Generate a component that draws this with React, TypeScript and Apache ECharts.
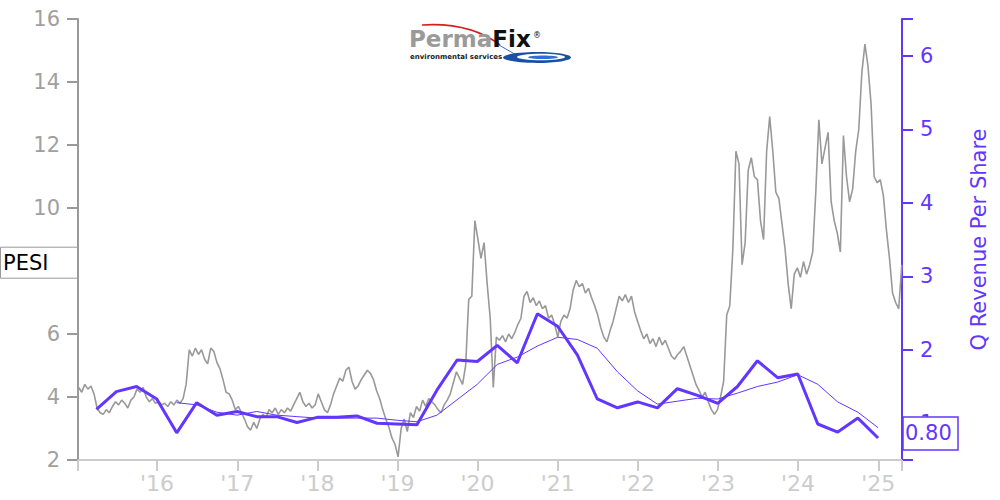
import React, { useEffect, useRef } from 'react';
import * as echarts from 'echarts';

// ---------- data ----------
const TICKER = 'PESI';
const RIGHT_AXIS_NAME = 'Q Revenue Per Share';

// biweekly closing prices, first close 2015-01-09, one every 14 days
const PRICE_START = '2015-01-09';
const PRICE_STEP_DAYS = 14;
const PRICE_2015 = [4.3, 4.15, 4.4, 4.25, 4.35, 4.1, 3.65, 3.5, 3.45, 3.6, 3.5, 3.7, 3.85, 3.75, 3.9, 3.8, 3.65, 3.9, 4.0, 4.25, 4.15, 4.3, 4.0, 3.85, 3.95, 3.8];
const PRICE_2016 = [3.85, 3.75, 3.8, 3.7, 3.85, 3.75, 3.9, 3.8, 3.95, 4.4, 5.5, 5.3, 5.55, 5.35, 5.5, 5.2, 5.05, 5.55, 5.45, 5.1, 4.9, 4.55, 4.15, 4.1, 3.9, 3.6];
const PRICE_2017 = [3.7, 3.5, 3.3, 3.05, 2.95, 3.2, 3.0, 3.3, 3.45, 3.35, 3.6, 3.5, 3.65, 3.45, 3.6, 3.5, 3.65, 3.55, 3.75, 3.95, 4.15, 3.85, 3.7, 3.8, 3.65, 3.75];
const PRICE_2018 = [4.1, 3.85, 3.6, 3.5, 3.75, 4.1, 4.35, 4.6, 4.5, 4.85, 4.95, 4.5, 4.25, 4.35, 4.55, 4.7, 4.85, 4.75, 4.55, 4.2, 3.95, 3.6, 3.3, 3.05, 2.7, 2.5];
const PRICE_2019 = [2.1, 3.0, 3.3, 2.9, 3.5, 3.35, 3.7, 3.55, 3.9, 3.7, 3.95, 3.85, 3.75, 3.6, 3.5, 3.75, 3.9, 4.1, 4.45, 4.8, 4.6, 4.4, 5.0, 7.1, 7.2, 9.6];
const PRICE_2020 = [9.0, 8.4, 8.9, 7.6, 6.5, 4.3, 5.9, 5.8, 5.95, 5.75, 6.0, 5.85, 6.05, 6.3, 6.5, 7.2, 7.35, 7.0, 7.15, 6.9, 7.05, 6.8, 6.9, 6.5, 6.6, 6.3];
const PRICE_2021 = [5.9, 6.4, 6.6, 6.5, 6.8, 7.4, 7.7, 7.5, 7.6, 7.3, 7.45, 7.15, 6.9, 6.6, 6.2, 5.9, 5.75, 6.1, 6.4, 6.8, 7.2, 7.05, 7.25, 7.0, 7.2, 6.7];
const PRICE_2022 = [6.4, 6.1, 5.85, 6.0, 5.7, 5.85, 5.6, 5.9, 5.65, 5.8, 5.55, 5.3, 5.2, 5.35, 5.45, 5.6, 5.3, 5.0, 4.7, 4.4, 4.2, 4.0, 4.15, 3.85, 3.6, 3.45];
const PRICE_2023 = [3.6, 4.0, 4.5, 6.6, 6.9, 8.7, 11.8, 11.4, 8.2, 8.9, 11.2, 11.6, 11.0, 10.9, 9.6, 9.0, 11.8, 12.9, 11.8, 10.5, 10.3, 9.5, 8.7, 7.6, 6.8, 7.9];
const PRICE_2024 = [8.1, 7.8, 8.3, 7.9, 8.2, 8.6, 10.5, 12.8, 11.4, 11.9, 12.4, 10.2, 9.6, 9.2, 8.6, 12.3, 11.0, 10.2, 10.6, 11.8, 12.5, 14.3, 15.2, 14.5, 13.3, 11.0];
const PRICE_2025 = [10.8, 10.9, 10.4, 9.3, 8.4, 7.3, 7.0, 6.8, 8.2];

// quarterly revenue per share (quarter ends)
const QUARTER_YEARS = [2015, 2016, 2017, 2018, 2019, 2020, 2021, 2022, 2023, 2024];
const QUARTER_ENDS = ['03-31', '06-30', '09-30', '12-31'];
const REVENUE = [
  1.19, 1.43, 1.50, 1.33,
  0.87, 1.28, 1.11, 1.16,
  1.09, 1.09, 1.01, 1.08,
  1.08, 1.10, 1.00, 0.99,
  0.98, 1.45, 1.86, 1.84,
  2.06, 1.82, 2.49, 2.32,
  1.93, 1.33, 1.21, 1.29,
  1.21, 1.47, 1.38, 1.27,
  1.50, 1.85, 1.62, 1.67,
  0.99, 0.88, 1.07, 0.80,
];
// trailing four-quarter average line
const REVENUE_AVG = [
  null, null, null, null,
  1.28, 1.25, 1.15, 1.11,
  1.16, 1.11, 1.09, 1.07,
  1.07, 1.07, 1.07, 1.04,
  1.02, 1.11, 1.32, 1.53,
  1.80, 1.90, 2.05, 2.17,
  2.14, 2.02, 1.70, 1.44,
  1.26, 1.30, 1.34, 1.33,
  1.41, 1.50, 1.56, 1.66,
  1.53, 1.29, 1.15, 0.94,
];

const X_MIN = '2015-01-06';
const X_MAX = '2025-04-19';
const YEAR_TICKS = [2016, 2017, 2018, 2019, 2020, 2021, 2022, 2023, 2024, 2025];
const LEFT_MIN = 2, LEFT_MAX = 16, LEFT_INTERVAL = 2;
const RIGHT_MIN = 0.5, RIGHT_MAX = 6.5;
const RIGHT_LABELS = [1, 2, 3, 4, 5, 6];

// ---------- styles ----------
const PURPLE = '#6236ff';
const GREY = '#999999';
const LIGHT = '#cccccc';
const FONT = 'DejaVu Sans';

const ts = (d: string) => new Date(d + 'T00:00:00').getTime();

export default function App() {
  const ref = useRef<HTMLDivElement>(null);

  useEffect(() => {
    if (!ref.current) return;
    const chart = echarts.init(ref.current, undefined, { renderer: 'svg' });

    const allPrices = [
      ...PRICE_2015, ...PRICE_2016, ...PRICE_2017, ...PRICE_2018, ...PRICE_2019,
      ...PRICE_2020, ...PRICE_2021, ...PRICE_2022, ...PRICE_2023, ...PRICE_2024, ...PRICE_2025,
    ];
    const start = ts(PRICE_START);
    const priceData = allPrices.map((v, i) => [start + i * PRICE_STEP_DAYS * 86400000, v]);

    const qDates: number[] = [];
    QUARTER_YEARS.forEach((y) => QUARTER_ENDS.forEach((md) => qDates.push(ts(`${y}-${md}`))));
    const revData = REVENUE.map((v, i) => [qDates[i], v]);
    const avgData = REVENUE_AVG.map((v, i) => [qDates[i], v]);

    const yearStarts = YEAR_TICKS.map((y) => ts(`${y}-01-01`));
    const xMin = ts(X_MIN);
    const xMax = ts(X_MAX);

    const option: any = {
      animation: false,
      backgroundColor: '#ffffff',
      textStyle: { fontFamily: FONT },
      grid: { left: 78, right: 98, top: 19, bottom: 40, containLabel: false },
      xAxis: {
        type: 'value',
        min: xMin,
        max: xMax,
        axisLine: { show: true, lineStyle: { color: LIGHT, width: 2 } },
        axisTick: { show: true, length: 11, lineStyle: { color: LIGHT, width: 2 }, customValues: [xMin, ...yearStarts, xMax] },
        axisLabel: {
          customValues: yearStarts,
          color: LIGHT,
          fontSize: 22,
          fontFamily: FONT,
          margin: 12,
          formatter: (v: number) => "'" + String(new Date(v).getFullYear()).slice(2),
        },
        splitLine: { show: false },
      },
      yAxis: [
        {
          type: 'value',
          position: 'left',
          min: LEFT_MIN,
          max: LEFT_MAX,
          interval: LEFT_INTERVAL,
          axisLine: { show: true, lineStyle: { color: GREY, width: 2 } },
          axisTick: { show: true, length: 11, lineStyle: { color: GREY, width: 2 } },
          axisLabel: { color: '#a0a0a0', fontSize: 21, fontFamily: FONT, margin: 18 },
          splitLine: { show: false },
        },
        {
          type: 'value',
          position: 'right',
          min: RIGHT_MIN,
          max: RIGHT_MAX,
          name: RIGHT_AXIS_NAME,
          nameLocation: 'middle',
          nameRotate: 90,
          nameGap: 66,
          nameTextStyle: { color: PURPLE, fontSize: 21, fontFamily: FONT },
          axisLine: { show: true, lineStyle: { color: PURPLE, width: 2 } },
          axisTick: { show: true, length: 11, lineStyle: { color: PURPLE, width: 2 }, customValues: [RIGHT_MIN, ...RIGHT_LABELS, RIGHT_MAX] },
          axisLabel: { customValues: RIGHT_LABELS, color: PURPLE, fontSize: 21, fontFamily: FONT, margin: 18 },
          splitLine: { show: false },
        },
      ],
      series: [
        {
          type: 'line',
          name: TICKER,
          yAxisIndex: 0,
          data: priceData,
          showSymbol: false,
          lineStyle: { color: GREY, width: 1.6 },
          z: 1,
        },
        {
          type: 'line',
          yAxisIndex: 1,
          data: avgData,
          showSymbol: false,
          connectNulls: false,
          lineStyle: { color: PURPLE, width: 1 },
          z: 2,
        },
        {
          type: 'line',
          yAxisIndex: 1,
          data: revData,
          showSymbol: false,
          lineStyle: { color: PURPLE, width: 3 },
          z: 3,
        },
      ],
    };
    chart.setOption(option);

    const lastRev = REVENUE[REVENUE.length - 1];
    const lastPrice = allPrices[allPrices.length - 1];
    const yRev = chart.convertToPixel({ yAxisIndex: 1 }, lastRev) as number;
    const yPrice = chart.convertToPixel({ yAxisIndex: 0 }, lastPrice) as number;

    chart.setOption({
      graphic: [
        {
          type: 'bezierCurve', z: 100,
          shape: { x1: 422, y1: 25, cpx1: 470, cpy1: 22, x2: 500, y2: 45 },
          style: { stroke: '#d42020', lineWidth: 1.6, fill: null },
        },
        {
          type: 'line', z: 100,
          shape: { x1: 499, y1: 45, x2: 518, y2: 56 },
          style: { stroke: '#3a6fd0', lineWidth: 1 },
        },
        {
          type: 'text', z: 101, x: 409, y: 50,
          style: {
            text: '{a|Perma}{b|Fix}',
            verticalAlign: 'bottom',
            rich: {
              a: { fontSize: 23, fontWeight: 'bold', fontFamily: FONT, fill: '#9a9a9a' },
              b: { fontSize: 23, fontWeight: 'bold', fontFamily: FONT, fill: '#111111' },
            },
          },
        },
        {
          type: 'text', z: 101, x: 533, y: 31,
          style: { text: '®', fontSize: 8, fontFamily: FONT, fill: '#111111' },
        },
        {
          type: 'text', z: 101, x: 410, y: 57,
          style: { text: 'environmental services', fontSize: 7, fontWeight: 'bold', fontFamily: FONT, fill: '#222222', verticalAlign: 'middle' },
        },
        { type: 'ellipse', z: 100, shape: { cx: 537, cy: 57.5, rx: 34, ry: 5.5 }, style: { fill: '#1b4fa3' } },
        { type: 'ellipse', z: 100, shape: { cx: 541, cy: 57, rx: 24, ry: 3.2 }, style: { fill: '#ffffff' } },
        { type: 'ellipse', z: 100, shape: { cx: 543, cy: 57.3, rx: 15, ry: 1.8 }, style: { fill: '#2f6fd6' } },
        {
          type: 'rect', z: 110,
          shape: { x: 903, y: yRev - 21, width: 55, height: 33 },
          style: { fill: '#ffffff', stroke: PURPLE, lineWidth: 1.5 },
        },
        {
          type: 'text', z: 111, x: 905, y: yRev - 4.5,
          style: { text: lastRev.toFixed(2), fontSize: 21, fontFamily: FONT, fill: PURPLE, verticalAlign: 'middle' },
        },
        {
          type: 'rect', z: 110,
          shape: { x: 0.5, y: yPrice - 17.5, width: 77, height: 31 },
          style: { fill: '#ffffff', stroke: GREY, lineWidth: 1 },
        },
        {
          type: 'text', z: 111, x: 3, y: yPrice - 2,
          style: { text: TICKER, fontSize: 21, fontFamily: FONT, fill: '#000000', verticalAlign: 'middle' },
        },
      ],
    });

    return () => chart.dispose();
  }, []);

  return <div ref={ref} style={{ position: 'fixed', left: 0, top: 0, width: 1000, height: 500 }} />;
}
